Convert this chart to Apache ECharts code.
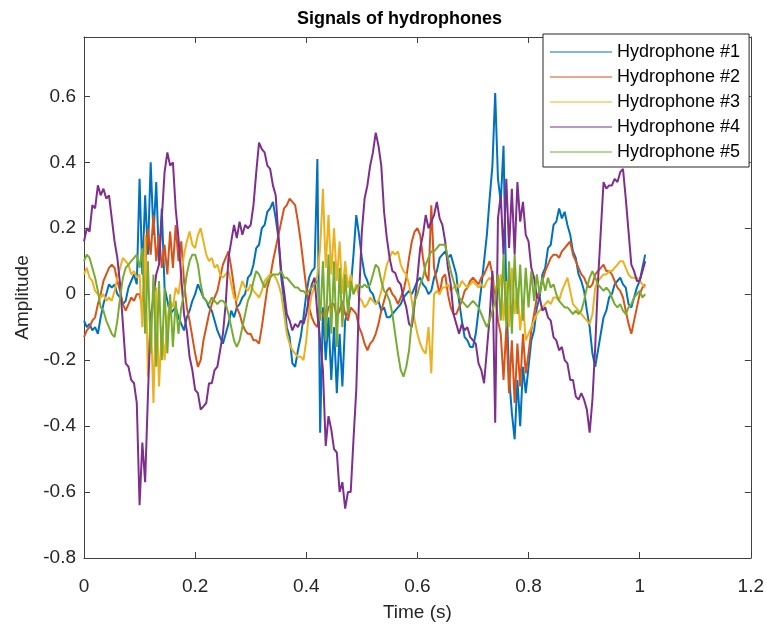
<!DOCTYPE html>
<html>
<head>
<meta charset="utf-8">
<script src="https://cdn.jsdelivr.net/npm/echarts@6/dist/echarts.min.js"></script>
<style>html,body{margin:0;padding:0;background:#fff;}#c{width:767px;height:627px;}</style>
</head>
<body>
<div id="c"></div>
<script>
// Sampling grid: one value every 0.005 s, from 0 to 1.01 s
const T_STEP = 0.005;
const seriesNames = ['Hydrophone #1','Hydrophone #2','Hydrophone #3','Hydrophone #4','Hydrophone #5'];
const xTicks = [0, 0.2, 0.4, 0.6, 0.8, 1, 1.2];
const yTicks = [-0.8, -0.6, -0.4, -0.2, 0, 0.2, 0.4, 0.6];

const hydro1 = [
 -0.08,-0.10,-0.09,-0.11,-0.10,-0.12,-0.07,-0.03,0.00,0.03,
 0.02,0.03,0.00,-0.01,-0.03,-0.02,0.02,0.04,0.06,0.03,
 0.35,0.06,0.30,0.12,0.40,0.18,0.34,0.10,0.26,0.02,
 -0.02,-0.06,-0.05,-0.04,-0.07,-0.09,-0.11,-0.07,-0.05,-0.02,
 0.00,0.03,0.01,-0.01,-0.02,-0.04,-0.05,-0.08,-0.11,-0.13,
 -0.15,-0.12,-0.09,-0.05,-0.07,-0.04,-0.03,-0.01,0.00,0.05,
 0.06,0.09,0.14,0.15,0.20,0.21,0.25,0.26,0.28,0.23,
 0.17,0.05,-0.02,-0.10,-0.13,-0.21,-0.22,-0.17,-0.13,-0.07,
 0.00,0.05,0.07,0.08,0.41,-0.42,-0.04,-0.20,-0.07,-0.26,
 -0.10,-0.30,-0.12,-0.28,-0.08,-0.05,0.02,0.12,0.24,0.18,
 0.11,0.06,0.04,0.01,0.00,-0.03,-0.02,-0.05,-0.04,-0.07,
 -0.07,-0.06,-0.05,-0.04,-0.03,-0.01,0.00,0.01,0.00,0.02,
 0.04,0.05,0.03,0.02,0.00,0.01,0.05,0.07,0.11,0.12,
 0.13,0.11,0.12,0.09,0.06,-0.02,-0.08,-0.13,-0.14,-0.16,
 -0.16,-0.12,-0.05,0.02,0.10,0.18,0.29,0.39,0.61,0.35,
 0.28,0.45,0.00,-0.25,-0.36,-0.44,-0.26,-0.40,-0.22,-0.30,
 -0.22,-0.14,-0.11,-0.04,-0.01,0.06,0.08,0.14,0.15,0.21,
 0.22,0.26,0.23,0.25,0.21,0.18,0.13,0.11,0.06,0.04,
 0.01,-0.05,-0.10,-0.18,-0.22,-0.17,-0.12,-0.07,-0.05,-0.01,
 0.00,0.03,0.04,0.05,0.03,0.02,-0.03,-0.04,-0.01,0.02,
 0.04,0.08,0.12
];
const hydro2 = [
 -0.13,-0.11,-0.10,-0.08,-0.07,-0.03,0.00,0.04,0.06,0.08,
 0.09,0.08,0.04,0.01,-0.03,-0.05,-0.03,-0.01,-0.02,0.00,
 0.00,-0.04,0.08,0.20,0.12,0.24,0.10,0.18,0.08,0.15,
 0.06,0.19,0.08,0.21,0.10,0.16,0.04,-0.04,-0.08,-0.13,
 -0.18,-0.22,-0.20,-0.14,-0.10,-0.06,-0.03,-0.01,0.01,0.05,
 0.09,0.11,0.13,0.08,0.02,-0.04,-0.06,-0.09,-0.11,-0.12,
 -0.12,-0.14,-0.14,-0.15,-0.10,-0.04,0.02,0.05,0.10,0.14,
 0.18,0.22,0.26,0.27,0.29,0.28,0.27,0.22,0.16,0.09,
 0.02,-0.04,-0.07,-0.09,-0.10,-0.05,-0.06,-0.08,-0.04,-0.03,
 -0.03,-0.07,-0.05,-0.02,-0.06,-0.08,-0.04,-0.05,-0.06,-0.10,
 -0.12,-0.15,-0.17,-0.15,-0.14,-0.12,-0.09,-0.05,-0.02,0.01,
 0.02,0.00,-0.01,-0.03,-0.01,0.01,0.05,0.11,0.16,0.19,
 0.20,0.18,0.11,0.06,0.04,0.27,0.08,0.04,0.00,0.05,
 0.06,0.00,-0.04,-0.06,-0.06,-0.04,-0.02,0.01,0.02,0.04,
 0.05,0.04,0.03,0.05,0.06,0.08,0.10,0.06,0.00,-0.08,
 -0.12,-0.26,-0.10,-0.30,-0.14,-0.33,-0.15,-0.28,-0.12,-0.24,
 -0.18,-0.11,-0.06,-0.01,0.01,0.04,0.07,0.09,0.11,0.12,
 0.12,0.11,0.13,0.14,0.15,0.16,0.12,0.10,0.08,0.06,
 0.05,0.03,0.02,0.03,0.06,0.07,0.08,0.09,0.07,0.07,
 0.06,0.04,0.02,0.01,-0.01,-0.05,-0.09,-0.12,-0.08,-0.04,
 0.00,0.02,0.03
];
const hydro3 = [
 0.06,0.08,0.05,0.04,0.01,0.00,-0.01,0.00,-0.02,-0.01,
 -0.02,0.01,0.05,0.08,0.11,0.10,0.09,0.06,0.07,0.05,
 0.06,-0.10,0.18,-0.25,-0.05,-0.33,0.02,-0.28,-0.10,-0.20,
 -0.08,-0.02,-0.04,0.02,0.00,0.06,0.12,0.16,0.19,0.15,
 0.14,0.18,0.20,0.16,0.12,0.10,0.11,0.08,0.09,0.06,
 0.05,0.06,0.07,0.03,-0.01,-0.02,0.01,0.04,0.02,0.01,
 0.03,0.01,0.00,-0.01,0.01,0.04,0.05,0.06,0.06,0.05,
 0.03,0.00,-0.06,-0.12,-0.15,-0.17,-0.18,-0.19,-0.19,-0.20,
 -0.14,-0.05,0.00,0.02,0.06,0.14,0.32,0.08,0.24,0.06,
 0.20,0.04,0.16,0.00,0.10,0.02,0.06,0.00,0.03,-0.01,
 -0.02,-0.04,-0.03,-0.01,-0.02,-0.03,-0.02,0.01,0.05,0.09,
 0.11,0.13,0.12,0.13,0.09,0.07,0.06,0.03,-0.02,-0.08,
 -0.12,-0.15,-0.17,-0.18,-0.10,-0.24,0.00,0.01,0.00,0.02,
 0.02,0.03,0.01,0.02,0.03,0.02,0.04,0.03,0.02,0.03,
 0.04,0.03,0.02,0.03,0.02,0.04,0.05,0.04,0.02,0.00,
 0.06,-0.08,0.04,-0.10,0.08,-0.06,0.02,-0.11,-0.02,-0.14,
 -0.12,-0.10,-0.08,-0.06,-0.05,-0.04,-0.03,-0.02,-0.03,-0.01,
 -0.01,-0.02,0.01,0.03,0.05,0.01,-0.03,-0.04,-0.05,-0.06,
 -0.07,-0.08,-0.09,-0.06,0.02,0.04,0.05,0.06,0.06,0.07,
 0.07,0.08,0.09,0.10,0.10,0.08,0.06,0.05,0.05,0.05,
 0.04,0.03,0.02
];
const hydro4 = [
 0.16,0.20,0.19,0.27,0.26,0.33,0.30,0.32,0.29,0.30,
 0.23,0.16,0.11,0.03,-0.09,-0.21,-0.22,-0.26,-0.27,-0.33,
 -0.64,-0.45,-0.57,-0.31,-0.07,-0.01,0.06,0.09,0.23,0.37,
 0.43,0.39,0.40,0.26,0.17,0.05,-0.06,-0.11,-0.19,-0.23,
 -0.29,-0.30,-0.35,-0.34,-0.33,-0.27,-0.27,-0.23,-0.22,-0.17,
 -0.12,-0.03,0.11,0.16,0.21,0.17,0.22,0.18,0.21,0.20,
 0.21,0.27,0.37,0.46,0.44,0.43,0.39,0.38,0.33,0.30,
 0.17,0.07,0.01,-0.06,-0.08,-0.11,-0.09,-0.10,-0.08,-0.09,
 -0.06,-0.01,0.03,0.05,-0.06,-0.14,-0.23,-0.46,-0.37,-0.41,
 -0.47,-0.48,-0.60,-0.57,-0.65,-0.60,-0.60,-0.44,-0.29,-0.01,
 0.19,0.29,0.33,0.39,0.43,0.49,0.45,0.39,0.25,0.17,
 0.11,0.07,0.065,0.04,0.03,-0.01,-0.04,-0.09,-0.10,-0.03,
 0.05,0.14,0.18,0.24,0.20,0.22,0.24,0.28,0.23,0.21,
 0.16,0.08,0.03,-0.06,-0.09,-0.12,-0.09,-0.11,-0.10,-0.13,
 -0.14,-0.15,-0.21,-0.23,-0.27,-0.17,-0.07,0.07,-0.39,0.23,
 0.30,0.12,0.35,0.14,0.32,0.12,0.34,0.22,0.28,0.18,
 0.16,0.08,0.05,-0.01,-0.01,-0.05,-0.04,-0.07,-0.08,-0.13,
 -0.14,-0.17,-0.16,-0.20,-0.21,-0.26,-0.26,-0.31,-0.32,-0.30,
 -0.32,-0.35,-0.42,-0.32,-0.16,0.04,0.19,0.34,0.32,0.33,
 0.33,0.35,0.34,0.37,0.38,0.29,0.19,0.09,0.07,0.04,
 0.04,0.07,0.10
];
const hydro5 = [
 0.10,0.12,0.11,0.08,0.05,0.01,-0.04,-0.05,-0.08,-0.10,
 -0.12,-0.13,-0.08,-0.01,0.05,0.08,0.09,0.10,0.11,0.12,
 0.08,0.14,-0.12,0.10,-0.18,0.06,-0.22,0.04,-0.20,0.02,
 -0.18,0.00,-0.16,-0.02,-0.12,-0.04,0.00,0.06,0.10,0.12,
 0.12,0.09,0.03,-0.01,-0.02,-0.03,-0.01,-0.02,-0.03,-0.02,
 -0.02,-0.03,-0.06,-0.10,-0.14,-0.16,-0.14,-0.10,-0.06,-0.02,
 0.00,0.04,0.07,0.06,0.04,0.02,0.04,0.05,0.06,0.06,
 0.06,0.07,0.05,0.05,0.04,0.03,0.02,0.02,0.01,0.01,
 0.00,0.01,0.02,0.03,0.04,-0.08,0.10,-0.14,0.12,-0.12,
 0.10,-0.16,0.08,-0.10,0.06,-0.06,0.04,0.00,0.02,0.03,
 0.02,0.03,0.02,0.03,0.06,0.09,0.08,0.04,0.01,0.00,
 -0.02,-0.06,-0.12,-0.18,-0.23,-0.25,-0.22,-0.17,-0.08,-0.02,
 0.00,0.03,0.05,0.09,0.11,0.13,0.13,0.14,0.15,0.15,
 0.15,0.11,0.07,0.04,0.01,-0.01,-0.02,-0.03,-0.04,-0.03,
 -0.02,-0.03,-0.04,-0.06,-0.08,-0.10,-0.08,-0.05,-0.02,0.06,
 -0.08,0.12,-0.10,0.10,-0.12,0.12,-0.06,0.09,-0.08,0.08,
 -0.04,0.07,-0.02,0.06,0.00,0.05,0.01,0.05,0.02,0.03,
 0.00,-0.02,-0.03,-0.04,-0.04,-0.05,-0.06,-0.05,-0.06,-0.05,
 -0.02,0.02,0.05,0.07,0.05,0.03,0.02,0.01,0.02,0.01,
 -0.01,-0.03,-0.04,-0.03,-0.05,-0.06,-0.04,-0.03,-0.01,0.00,
 0.01,-0.01,0.00
];

const allSeries = [hydro1, hydro2, hydro3, hydro4, hydro5];
const colors = ['#0072BD','#D95319','#EDB120','#7E2F8E','#77AC30'];
const FONT = '"Liberation Sans", Arial, sans-serif';
const AX = '#404040';
const TXT = '#262626';

function pairs(vals){ return vals.map((v,i)=>[+(i*T_STEP).toFixed(3), v]); }
function fmt(list){ return v => { for (const t of list){ if (Math.abs(t-v)<1e-6) return String(t); } return ''; }; }

const chart = echarts.init(document.getElementById('c'), null, {renderer:'canvas'});
const baseX = {type:'value', min:0, max:1.2, interval:0.2, splitLine:{show:false},
  axisLine:{show:true, onZero:false, lineStyle:{color:AX, width:1}},
  axisTick:{show:true, inside:true, length:6, lineStyle:{color:AX}}};
const baseY = {type:'value', min:-0.8, max:0.78, interval:0.2, splitLine:{show:false},
  axisLine:{show:true, onZero:false, lineStyle:{color:AX, width:1}},
  axisTick:{show:true, inside:true, length:6, lineStyle:{color:AX}}};

chart.setOption({
  animation:false,
  backgroundColor:'#fff',
  title:{text:'Signals of hydrophones', left:292, top:5,
    textStyle:{fontFamily:FONT, fontSize:18, fontWeight:'bold', color:'#000'}},
  legend:{orient:'vertical', left:543, top:34, padding:[8,9,5,7], itemWidth:62, itemHeight:1, itemGap:5,
    icon:'rect',
    backgroundColor:'#fff', borderColor:'#262626', borderWidth:1, borderRadius:0, z:10,
    textStyle:{fontFamily:FONT, fontSize:18, color:'#000', lineHeight:20},
    data:seriesNames},
  grid:{left:84, right:15, top:37, bottom:68},
  xAxis:[
    Object.assign({}, baseX, {position:'bottom', name:'Time (s)', nameLocation:'middle', nameGap:45,
      nameTextStyle:{fontFamily:FONT, fontSize:19, color:TXT},
      axisLabel:{margin:19, fontFamily:FONT, fontSize:19, color:TXT, formatter:fmt(xTicks)}}),
    Object.assign({}, baseX, {position:'top', axisLabel:{show:false}})
  ],
  yAxis:[
    Object.assign({}, baseY, {position:'left', name:'Amplitude', nameLocation:'middle', nameGap:50,
      nameTextStyle:{fontFamily:FONT, fontSize:19, color:TXT},
      axisLabel:{margin:8, fontFamily:FONT, fontSize:19, color:TXT, showMaxLabel:false, formatter:fmt(yTicks)}}),
    Object.assign({}, baseY, {position:'right', axisLabel:{show:false}})
  ],
  series: seriesNames.map((n,i)=>({
    name:n, type:'line', xAxisIndex:0, yAxisIndex:0, data:pairs(allSeries[i]),
    symbol:'none', showSymbol:false, lineStyle:{width:2, color:colors[i]}, itemStyle:{color:colors[i]},
    z:2
  }))
});
</script>
</body>
</html>
